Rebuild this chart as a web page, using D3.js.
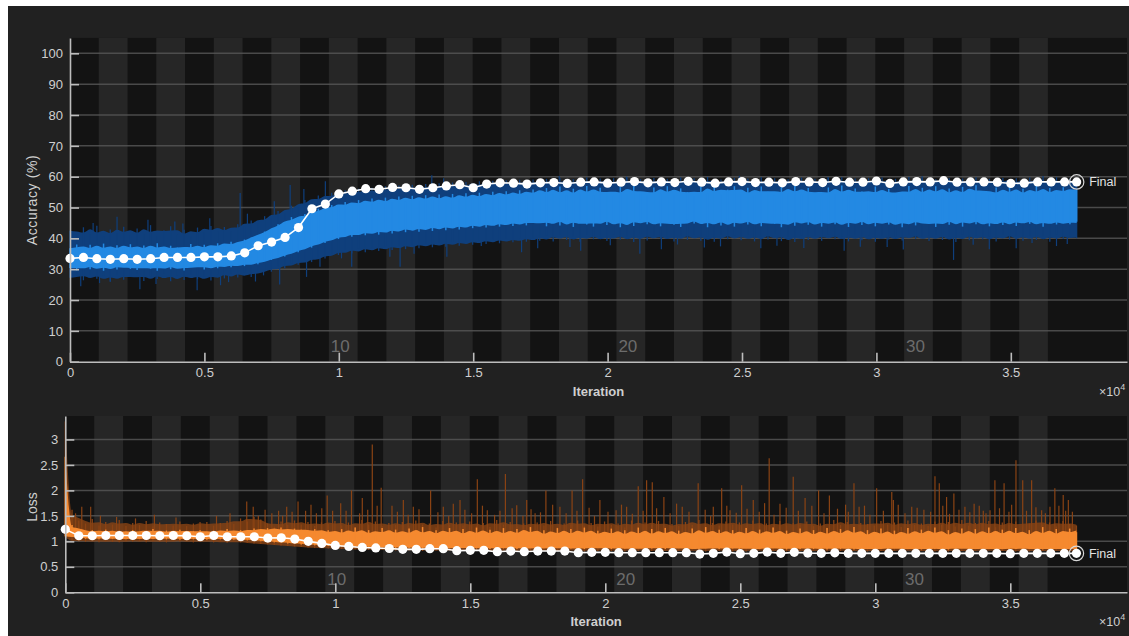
<!DOCTYPE html>
<html>
<head>
<meta charset="utf-8">
<script src="https://cdn.jsdelivr.net/npm/d3@7"></script>
<style>
  html, body { margin: 0; padding: 0; background: #ffffff; }
  svg { display: block; }
  text { font-family: "Liberation Sans", Arial, Helvetica, sans-serif; }
</style>
</head>
<body>
<svg id="chart" width="1129" height="636"></svg>
<script>
// ---- training run setup ----
const TOTAL_ITER = 37450;
const ITER_PER_EPOCH = 1070;
const NUM_EPOCHS = 35;
const VALID_EVERY = 500;
const epochLabels = [10, 20, 30];

// ---- axis ticks ----
const accTicks = [0, 10, 20, 30, 40, 50, 60, 70, 80, 90, 100];
const lossTicks = [0, 0.5, 1, 1.5, 2, 2.5, 3];
const iterTicks = [0, 5000, 10000, 15000, 20000, 25000, 30000, 35000];

// ---- validation accuracy (%) every 500 iterations, plus final ----
const accValid = [
  33.5, 33.8, 33.4, 33.2, 33.4, 33.2, 33.4, 33.8, 33.8, 33.8,
  34.0, 34.0, 34.3, 35.3, 37.6, 38.8, 40.3, 43.5, 49.6, 51.1,
  54.4, 55.3, 56.1, 55.9, 56.5, 56.4, 55.9, 56.4, 57.0, 57.4,
  56.4, 57.6, 58.0, 57.9, 57.6, 58.0, 58.1, 57.8, 58.2, 58.3,
  57.9, 58.2, 58.4, 58.0, 58.3, 58.1, 58.5, 58.2, 57.9, 58.3,
  58.4, 58.1, 58.2, 58.0, 58.4, 58.3, 58.1, 58.5, 58.2, 58.2,
  58.6, 57.8, 58.3, 58.4, 58.3, 58.7, 58.2, 58.3, 58.3, 58.2,
  57.8, 57.9, 58.3, 58.3, 58.3
];
const accFinal = 58.3;

// ---- validation loss every 500 iterations, plus final ----
const lossValid = [
  1.235, 1.11, 1.11, 1.115, 1.115, 1.115, 1.115, 1.11, 1.115, 1.11,
  1.09, 1.115, 1.09, 1.09, 1.09, 1.065, 1.07, 1.045, 1.0, 0.96,
  0.92, 0.9, 0.88, 0.87, 0.86, 0.843, 0.843, 0.856, 0.856, 0.816,
  0.823, 0.823, 0.797, 0.81, 0.797, 0.81, 0.81, 0.81, 0.777, 0.784,
  0.784, 0.777, 0.777, 0.777, 0.777, 0.777, 0.777, 0.751, 0.764, 0.79,
  0.758, 0.764, 0.79, 0.764, 0.784, 0.77, 0.764, 0.775, 0.764, 0.764,
  0.764, 0.764, 0.764, 0.764, 0.764, 0.764, 0.764, 0.764, 0.764, 0.764,
  0.758, 0.764, 0.764, 0.764, 0.764
];
const lossFinal = 0.764;

// ---- training accuracy envelopes, 151 samples spread over the run ----
const accSmoothHi = [
  36.8, 38.0, 36.2, 37.9, 36.6, 38.3, 36.0, 37.8, 36.9, 38.1,
  36.3, 37.7, 36.7, 38.4, 36.1, 37.6, 37.0, 36.4, 38.2, 36.8,
  37.9, 36.9, 38.4, 37.6, 38.9, 38.0, 39.6, 40.3, 40.9, 42.2,
  43.0, 44.6, 45.0, 46.9, 46.3, 47.9, 48.0, 49.6, 49.2, 50.8,
  50.4, 51.8, 50.6, 52.4, 51.2, 52.9, 51.4, 53.2, 51.8, 53.6,
  52.0, 53.8, 52.3, 54.0, 52.5, 54.2, 52.4, 54.4, 52.9, 54.6,
  53.1, 54.8, 53.3, 55.1, 53.6, 55.3, 53.8, 55.6, 54.0, 55.8,
  54.6, 56.3, 54.2, 56.8, 53.9, 56.1, 54.5, 57.0, 54.0, 56.4,
  55.0, 53.8, 56.6, 54.3, 57.1, 54.7, 53.9, 56.5, 54.4, 56.9,
  54.1, 56.2, 55.0, 53.7, 56.7, 54.6, 57.2, 54.2, 55.8, 56.9,
  54.3, 56.4, 53.9, 56.8, 55.1, 54.0, 56.6, 54.5, 57.0, 54.2,
  56.3, 54.8, 53.8, 56.5, 54.4, 57.1, 54.0, 56.2, 55.2, 53.9,
  56.8, 54.3, 56.0, 54.7, 53.8, 57.0, 54.5, 56.4, 54.1, 56.9,
  54.6, 56.2, 53.9, 56.7, 54.4, 57.2, 55.0, 54.2, 56.5, 54.0,
  56.8, 54.5, 56.1, 53.9, 57.0, 54.6, 56.3, 54.2, 56.6, 55.4,
  55.8
];
const accSmoothLo = [
  30.4, 29.6, 31.2, 30.0, 31.0, 29.5, 30.8, 29.9, 31.3, 30.1,
  29.7, 31.0, 30.2, 29.5, 31.1, 30.0, 30.9, 29.6, 30.7, 31.2,
  29.9, 30.8, 30.3, 31.3, 30.6, 31.5, 31.0, 31.8, 31.6, 32.6,
  33.0, 33.9, 34.1, 35.4, 35.5, 36.9, 37.0, 38.4, 38.5, 39.9,
  39.8, 41.0, 40.5, 41.8, 41.0, 42.2, 41.2, 42.8, 41.6, 43.1,
  42.0, 43.4, 42.1, 43.7, 42.4, 43.9, 42.6, 44.1, 42.9, 44.3,
  43.3, 44.6, 43.5, 44.9, 43.8, 45.1, 44.0, 45.3, 44.2, 45.4,
  45.3, 43.9, 46.0, 44.2, 45.6, 43.7, 45.9, 44.5, 43.8, 46.1,
  44.3, 45.7, 43.6, 45.4, 44.0, 46.2, 44.6, 45.1, 43.9, 45.8,
  44.4, 43.7, 46.0, 44.8, 45.5, 43.6, 45.9, 44.2, 45.3, 43.8,
  46.1, 44.5, 45.2, 43.9, 45.8, 44.7, 43.6, 45.6, 44.1, 46.0,
  44.4, 45.3, 43.8, 45.9, 44.6, 45.0, 43.7, 46.2, 44.3, 45.5,
  43.9, 45.8, 44.5, 45.1, 43.6, 46.0, 44.2, 45.4, 44.8, 43.7,
  45.9, 44.4, 45.6, 43.8, 46.1, 44.6, 45.2, 43.9, 45.7, 44.3,
  45.5, 44.0, 46.0, 44.7, 45.3, 43.8, 45.8, 44.5, 45.1, 44.6,
  45.4
];
const accRawHi = [
  42.5, 40.8, 43.6, 41.2, 44.1, 40.5, 42.9, 41.7, 43.8, 40.9,
  43.2, 41.4, 44.3, 40.7, 42.6, 43.9, 41.1, 42.8, 40.6, 43.5,
  41.8, 44.0, 42.3, 43.7, 42.1, 44.6, 43.9, 45.8, 44.7, 47.2,
  46.5, 48.9, 48.1, 50.6, 50.2, 52.4, 51.8, 53.9, 52.6, 54.8,
  53.9, 55.6, 54.2, 56.1, 54.7, 56.4, 55.0, 56.9, 55.3, 57.1,
  55.6, 57.4, 55.9, 57.6, 56.0, 57.9, 56.2, 58.1, 56.4, 58.3,
  56.6, 58.5, 56.9, 58.7, 57.1, 58.8, 57.3, 59.0, 57.5, 59.1,
  57.6, 59.3, 57.8, 59.6, 57.4, 59.2, 58.0, 59.7, 57.5, 59.4,
  57.9, 59.5, 57.3, 59.8, 58.1, 59.2, 57.6, 59.6, 57.8, 59.3,
  58.2, 59.7, 57.4, 59.5, 57.9, 59.9, 57.6, 59.1, 58.0, 59.6,
  57.5, 59.4, 57.8, 59.8, 57.3, 59.5, 58.1, 59.2, 57.7, 59.7,
  57.9, 59.3, 57.5, 59.6, 58.2, 59.8, 57.6, 59.4, 57.8, 59.5,
  58.0, 59.7, 57.4, 59.3, 57.9, 59.9, 57.7, 59.5, 58.1, 59.2,
  57.6, 59.6, 57.8, 59.4, 57.5, 59.8, 58.0, 59.3, 57.7, 59.6,
  57.9, 59.5, 57.4, 59.7, 58.1, 59.2, 57.6, 59.8, 57.8, 59.4,
  58.0
];
const accRawLo = [
  27.2, 28.6, 26.4, 28.1, 26.9, 27.8, 25.9, 28.3, 26.6, 27.5,
  28.4, 26.2, 27.7, 26.8, 28.5, 26.1, 27.9, 26.5, 28.2, 26.7,
  27.6, 26.3, 28.4, 27.0, 28.6, 27.3, 28.9, 27.5, 28.8, 29.6,
  29.2, 30.8, 30.3, 31.9, 31.4, 32.7, 32.3, 33.9, 33.5, 35.0,
  34.6, 36.2, 35.1, 36.7, 35.5, 37.1, 35.9, 37.4, 36.2, 37.8,
  36.5, 38.1, 36.8, 38.3, 37.1, 38.6, 37.3, 38.8, 37.6, 39.1,
  37.9, 39.3, 38.2, 39.6, 38.4, 39.8, 38.7, 40.0, 38.9, 40.2,
  39.2, 40.8, 39.0, 41.3, 39.5, 40.6, 38.9, 41.1, 39.7, 40.4,
  39.1, 41.2, 39.6, 40.7, 38.8, 41.4, 39.3, 40.9, 39.8, 40.5,
  39.0, 41.0, 39.5, 41.3, 39.2, 40.6, 38.9, 41.2, 39.7, 40.8,
  39.4, 41.1, 39.0, 40.7, 39.6, 41.4, 39.1, 40.5, 38.8, 41.0,
  39.5, 40.9, 39.2, 41.3, 39.7, 40.6, 39.0, 41.2, 39.4, 40.8,
  38.9, 41.0, 39.6, 40.4, 39.3, 41.3, 39.8, 40.7, 39.1, 41.1,
  39.5, 40.6, 38.8, 41.2, 39.4, 40.9, 39.7, 40.5, 39.0, 41.3,
  39.6, 40.8, 39.2, 41.0, 39.5, 40.7, 38.9, 41.2, 39.8, 40.6,
  40.0
];
// isolated raw accuracy excursions: [iteration, value]
const accSpikes = [
  [400, 24.5], [860, 45.0], [1100, 25.5], [1500, 26.0], [1750, 47.0], [2600, 23.5],
  [2900, 46.0], [3200, 25.2], [3900, 45.5], [4200, 44.8], [4730, 23.2], [5200, 46.5],
  [5600, 24.8], [5900, 25.8], [6330, 54.7], [6600, 48.0], [6900, 26.0], [7200, 28.0],
  [7600, 52.0], [7800, 25.0], [8190, 57.3], [8700, 56.0], [8800, 27.5], [9300, 30.8],
  [9500, 58.5], [10100, 33.5], [10480, 30.8], [11000, 56.5], [11900, 34.0], [12280, 30.8],
  [12800, 35.0], [13460, 60.5], [13900, 59.5], [14020, 34.0], [15300, 37.5], [16800, 35.5],
  [17400, 36.8], [18200, 60.2], [18600, 37.2], [19000, 36.0], [20100, 37.8], [20700, 60.0],
  [21200, 35.0], [22000, 36.5], [22600, 38.0], [23600, 37.0], [24200, 37.4], [24900, 60.3],
  [25700, 36.8], [26300, 37.6], [27300, 36.9], [28200, 59.9], [28800, 36.0], [29400, 37.3],
  [30400, 37.2], [31000, 36.4], [31700, 60.1], [32870, 33.0], [33600, 37.9], [34200, 36.5],
  [35200, 36.8], [35790, 38.5], [36200, 60.2], [36700, 37.5], [37100, 38.2]
];

// ---- training loss envelopes, 151 samples spread over the run ----
const lossSmoothHi = [
  2.66, 1.32, 1.24, 1.20, 1.22, 1.18, 1.23, 1.19, 1.21, 1.17,
  1.22, 1.18, 1.20, 1.24, 1.17, 1.21, 1.19, 1.23, 1.18, 1.20,
  1.22, 1.17, 1.21, 1.19, 1.24, 1.18, 1.22, 1.20, 1.25, 1.21,
  1.26, 1.22, 1.27, 1.21, 1.25, 1.23, 1.20, 1.24, 1.19, 1.22,
  1.15, 1.24, 1.13, 1.27, 1.16, 1.22, 1.12, 1.26, 1.17, 1.23,
  1.12, 1.25, 1.14, 1.28, 1.11, 1.22, 1.15, 1.26, 1.13, 1.24,
  1.10, 1.27, 1.14, 1.23, 1.12, 1.26, 1.11, 1.24, 1.15, 1.28,
  1.12, 1.22, 1.10, 1.26, 1.13, 1.24, 1.11, 1.27, 1.14, 1.21,
  1.10, 1.25, 1.13, 1.22, 1.09, 1.27, 1.12, 1.24, 1.10, 1.26,
  1.13, 1.21, 1.09, 1.25, 1.12, 1.28, 1.10, 1.23, 1.14, 1.22,
  1.09, 1.26, 1.12, 1.23, 1.10, 1.27, 1.13, 1.21, 1.09, 1.25,
  1.12, 1.22, 1.08, 1.26, 1.11, 1.24, 1.13, 1.28, 1.10, 1.22,
  1.09, 1.25, 1.12, 1.21, 1.08, 1.26, 1.11, 1.23, 1.13, 1.27,
  1.10, 1.22, 1.08, 1.25, 1.12, 1.24, 1.09, 1.27, 1.11, 1.23,
  1.13, 1.26, 1.09, 1.22, 1.11, 1.28, 1.10, 1.24, 1.12, 1.25,
  1.18
];
const lossSmoothLo = [
  1.10, 1.10, 1.07, 1.05, 1.06, 1.04, 1.07, 1.05, 1.03, 1.06,
  1.04, 1.07, 1.03, 1.05, 1.06, 1.04, 1.07, 1.03, 1.05, 1.04,
  1.06, 1.03, 1.05, 1.04, 1.06, 1.03, 1.04, 1.02, 1.03, 1.00,
  1.01, 0.98, 0.99, 0.96, 0.97, 0.94, 0.95, 0.92, 0.93, 0.91,
  0.92, 0.90, 0.91, 0.89, 0.90, 0.88, 0.90, 0.88, 0.89, 0.87,
  0.89, 0.87, 0.88, 0.86, 0.88, 0.87, 0.86, 0.88, 0.86, 0.87,
  0.88, 0.86, 0.87, 0.85, 0.87, 0.86, 0.88, 0.85, 0.86, 0.87,
  0.85, 0.87, 0.86, 0.88, 0.85, 0.86, 0.87, 0.85, 0.86, 0.88,
  0.86, 0.85, 0.87, 0.86, 0.84, 0.87, 0.85, 0.86, 0.88, 0.85,
  0.86, 0.87, 0.85, 0.86, 0.84, 0.87, 0.86, 0.85, 0.87, 0.86,
  0.85, 0.87, 0.84, 0.86, 0.85, 0.87, 0.86, 0.84, 0.86, 0.85,
  0.87, 0.85, 0.86, 0.84, 0.86, 0.85, 0.87, 0.84, 0.86, 0.85,
  0.84, 0.86, 0.85, 0.87, 0.84, 0.86, 0.85, 0.84, 0.86, 0.85,
  0.86, 0.84, 0.85, 0.87, 0.84, 0.86, 0.85, 0.86, 0.84, 0.85,
  0.85, 0.86, 0.84, 0.86, 0.85, 0.84, 0.86, 0.85, 0.84, 0.86,
  0.85
];
const lossRawHi = [
  3.35, 1.62, 1.41, 1.35, 1.44, 1.31, 1.38, 1.33, 1.42, 1.30,
  1.36, 1.32, 1.40, 1.29, 1.37, 1.34, 1.31, 1.39, 1.30, 1.35,
  1.33, 1.38, 1.31, 1.36, 1.40, 1.34, 1.45, 1.39, 1.48, 1.43,
  1.35, 1.29, 1.39, 1.32, 1.41, 1.33, 1.38, 1.30, 1.37, 1.34,
  1.40, 1.31, 1.37, 1.28, 1.42, 1.33, 1.39, 1.30, 1.36, 1.32,
  1.38, 1.29, 1.41, 1.33, 1.35, 1.27, 1.40, 1.32, 1.37, 1.31,
  1.39, 1.30, 1.36, 1.28, 1.42, 1.33, 1.38, 1.29, 1.35, 1.32,
  1.37, 1.31, 1.40, 1.28, 1.35, 1.33, 1.41, 1.30, 1.36, 1.29,
  1.39, 1.32, 1.35, 1.27, 1.41, 1.31, 1.37, 1.33, 1.40, 1.29,
  1.34, 1.30, 1.38, 1.32, 1.42, 1.28, 1.36, 1.31, 1.39, 1.33,
  1.37, 1.29, 1.41, 1.32, 1.35, 1.28, 1.40, 1.31, 1.36, 1.33,
  1.39, 1.30, 1.35, 1.27, 1.42, 1.32, 1.38, 1.29, 1.36, 1.34,
  1.31, 1.40, 1.33, 1.37, 1.28, 1.41, 1.32, 1.35, 1.30, 1.39,
  1.33, 1.38, 1.29, 1.42, 1.31, 1.36, 1.34, 1.40, 1.28, 1.37,
  1.32, 1.39, 1.30, 1.35, 1.41, 1.33, 1.37, 1.29, 1.40, 1.34,
  1.31
];
const lossRawLo = [
  1.08, 1.02, 1.00, 0.99, 1.01, 0.98, 1.00, 0.99, 0.98, 1.00,
  0.99, 1.01, 0.98, 1.00, 0.99, 0.98, 1.01, 0.99, 1.00, 0.98,
  0.99, 1.00, 0.98, 0.99, 0.97, 0.99, 0.98, 0.97, 0.96, 0.95,
  0.94, 0.93, 0.92, 0.91, 0.90, 0.89, 0.88, 0.87, 0.87, 0.86,
  0.86, 0.85, 0.85, 0.84, 0.85, 0.83, 0.84, 0.83, 0.84, 0.82,
  0.83, 0.82, 0.84, 0.81, 0.83, 0.82, 0.81, 0.83, 0.82, 0.84,
  0.82, 0.81, 0.83, 0.82, 0.80, 0.83, 0.82, 0.81, 0.83, 0.82,
  0.81, 0.83, 0.80, 0.82, 0.81, 0.83, 0.82, 0.80, 0.82, 0.81,
  0.83, 0.81, 0.82, 0.80, 0.82, 0.81, 0.83, 0.81, 0.80, 0.82,
  0.81, 0.82, 0.80, 0.83, 0.81, 0.80, 0.82, 0.81, 0.83, 0.80,
  0.82, 0.80, 0.81, 0.83, 0.80, 0.82, 0.81, 0.80, 0.82, 0.81,
  0.80, 0.82, 0.81, 0.80, 0.83, 0.81, 0.80, 0.82, 0.81, 0.80,
  0.82, 0.81, 0.80, 0.82, 0.81, 0.83, 0.80, 0.81, 0.82, 0.80,
  0.81, 0.80, 0.82, 0.81, 0.80, 0.82, 0.81, 0.83, 0.80, 0.81,
  0.82, 0.80, 0.81, 0.80, 0.82, 0.81, 0.80, 0.82, 0.81, 0.80,
  0.81
];
// isolated raw loss excursions: [iteration, value]
const lossSpikes = [
  [380, 1.55], [610, 1.68], [940, 1.68], [1300, 1.50], [1900, 1.48], [2600, 1.45],
  [3300, 1.52], [4100, 1.47], [4990, 1.38], [5600, 1.50], [6100, 1.55], [6720, 1.78],
  [6960, 1.68], [7150, 1.50], [7400, 1.62], [7650, 1.55], [7900, 1.60], [8050, 1.50],
  [8200, 1.68], [8400, 1.58], [8620, 1.78], [8900, 1.60], [9100, 1.72], [9300, 1.55],
  [9500, 1.65], [9700, 1.90], [9900, 1.60], [10200, 1.75], [10400, 1.60], [10600, 2.00],
  [10900, 1.55], [11000, 1.85], [11200, 1.62], [11370, 2.90], [11550, 1.70], [11700, 2.05],
  [12100, 1.70], [12300, 1.58], [12520, 1.81], [12700, 1.52], [12890, 1.68], [13100, 1.63],
  [13530, 2.00], [13800, 1.57], [14000, 1.68], [14200, 1.50], [14370, 1.74], [14620, 1.81],
  [14800, 1.62], [15050, 1.55], [15260, 2.22], [15450, 1.70], [15630, 1.61], [15900, 1.52],
  [16100, 1.60], [16300, 2.32], [16550, 1.65], [16720, 1.71], [16950, 1.50], [17090, 1.81],
  [17250, 1.63], [17400, 1.55], [17600, 1.57], [17800, 2.00], [18050, 1.72], [18320, 1.68],
  [18550, 1.55], [18770, 2.00], [18950, 1.60], [19160, 2.22], [19400, 1.66], [19600, 1.50],
  [19800, 1.81], [20100, 1.58], [20400, 1.61], [20600, 1.72], [20790, 1.68], [21000, 1.54],
  [21220, 2.08], [21400, 1.60], [21530, 2.20], [21740, 2.16], [21900, 1.65], [22170, 1.87],
  [22400, 1.55], [22640, 1.74], [22850, 1.68], [23100, 1.58], [23440, 2.14], [23700, 1.62],
  [23900, 1.50], [24000, 1.68], [24310, 2.04], [24500, 1.70], [24620, 1.61], [24850, 1.56],
  [25050, 2.10], [25250, 1.64], [25480, 1.81], [25700, 1.58], [25900, 1.75], [26070, 2.63],
  [26250, 1.52], [26470, 1.74], [26700, 1.66], [26960, 2.27], [27150, 1.60], [27400, 1.85],
  [27650, 1.70], [27900, 2.00], [28100, 1.55], [28300, 1.90], [28600, 1.64], [28900, 1.72],
  [29000, 1.58], [29210, 2.14], [29400, 1.68], [29600, 1.70], [29800, 1.52], [30050, 2.04],
  [30300, 1.60], [30610, 1.97], [30670, 1.81], [30850, 1.72], [31100, 1.55], [31350, 1.68],
  [31550, 1.66], [31800, 1.62], [32050, 1.58], [32210, 2.28], [32370, 2.14], [32500, 1.70],
  [32640, 1.87], [32750, 1.54], [32910, 1.94], [33100, 1.62], [33320, 1.68], [33500, 1.57],
  [33660, 1.74], [33850, 1.70], [34000, 1.60], [34100, 1.55], [34250, 1.61], [34430, 2.20],
  [34600, 1.65], [34770, 2.14], [34950, 1.58], [35050, 1.72], [35210, 2.59], [35460, 2.20],
  [35600, 1.60], [35790, 2.20], [35950, 1.67], [36160, 1.61], [36300, 1.55], [36470, 1.68],
  [36650, 2.04], [36800, 1.70], [36960, 1.91], [37050, 1.60], [37150, 1.81], [37300, 1.58]
];

// ---- drawing ----
const W = 1129, H = 636;
const PLOT_RIGHT = 1127;
const svg = d3.select("#chart");

svg.append("rect").attr("x", 8).attr("y", 6).attr("width", W - 8).attr("height", H - 6).attr("fill", "#212121");

function sampleIters(n) {
  return d3.range(n).map(i => i * TOTAL_ITER / (n - 1));
}

// three-sample running mean used for the dense core of a band
function runningMean(arr) {
  return arr.map((v, i) => i === 0 ? v : d3.mean(arr.slice(Math.max(1, i - 1), i + 2)));
}

// dense band: averaged core plus one stroke per sample reaching its extremes
function drawBand(g, x, y, hiArr, loArr, color, strokeW, coreOpacity) {
  const its = sampleIters(hiArr.length);
  const hiCore = runningMean(hiArr), loCore = runningMean(loArr);
  const pts = hiArr.map((v, i) => ({ it: its[i], hi: v, lo: loArr[i], hc: hiCore[i], lc: loCore[i] }));
  g.append("path")
    .datum(pts)
    .attr("d", d3.area().curve(d3.curveMonotoneX)
      .x(d => x(d.it)).y0(d => y(d.lc)).y1(d => y(d.hc)))
    .attr("fill", color).attr("fill-opacity", coreOpacity);
  g.append("g").selectAll("line")
    .data(pts)
    .join("line")
    .attr("x1", d => x(d.it)).attr("x2", d => x(d.it))
    .attr("y1", d => y(d.lo)).attr("y2", d => y(d.hi))
    .attr("stroke", color).attr("stroke-width", strokeW);
}

function drawPanel(cfg) {
  const g = svg.append("g");
  const x = d3.scaleLinear().domain([0, TOTAL_ITER * 1.05]).range([cfg.left, PLOT_RIGHT]);
  const y = d3.scaleLinear().domain([0, cfg.ymax]).range([cfg.bottom, cfg.top]);

  // plot background and alternating epoch bands
  g.append("rect")
    .attr("x", cfg.left).attr("y", cfg.top)
    .attr("width", PLOT_RIGHT - cfg.left).attr("height", cfg.bottom - cfg.top)
    .attr("fill", "#131313");
  const epochs = d3.range(1, NUM_EPOCHS + 1);
  g.append("g").selectAll("rect")
    .data(epochs.filter(e => e % 2 === 0))
    .join("rect")
    .attr("x", e => x((e - 1) * ITER_PER_EPOCH))
    .attr("width", e => x(e * ITER_PER_EPOCH) - x((e - 1) * ITER_PER_EPOCH))
    .attr("y", cfg.top).attr("height", cfg.bottom - cfg.top)
    .attr("fill", "#262626");

  // horizontal grid
  g.append("g").selectAll("line")
    .data(cfg.ticks.filter(t => t > 0))
    .join("line")
    .attr("x1", cfg.left).attr("x2", PLOT_RIGHT)
    .attr("y1", d => y(d)).attr("y2", d => y(d))
    .attr("stroke", "#555555").attr("stroke-width", 1.5).attr("stroke-opacity", 0.85);

  // epoch numbers
  g.append("g").selectAll("text")
    .data(epochLabels)
    .join("text")
    .attr("x", e => x((e - 0.5) * ITER_PER_EPOCH) - 3)
    .attr("y", cfg.epochBaseline)
    .attr("text-anchor", "middle")
    .attr("font-size", 17)
    .attr("fill", "#6c6c6c")
    .text(e => e);

  // raw series: isolated excursions, then the dense envelope, then the smoothed one
  const smoothIters = sampleIters(cfg.smoothHi.length);
  const smoothMid = d3.scaleLinear()
    .domain(smoothIters)
    .range(cfg.smoothHi.map((v, i) => (v + cfg.smoothLo[i]) / 2));
  g.append("g").selectAll("line")
    .data(cfg.spikes)
    .join("line")
    .attr("x1", d => x(d[0])).attr("x2", d => x(d[0]))
    .attr("y1", d => y(smoothMid(d[0]))).attr("y2", d => y(d[1]))
    .attr("stroke", cfg.rawColor).attr("stroke-width", 1.2);

  drawBand(g, x, y, cfg.rawHi, cfg.rawLo, cfg.rawColor, 1.3, cfg.rawCoreOpacity);
  drawBand(g, x, y, cfg.smoothHi, cfg.smoothLo, cfg.smoothColor, 1.5, 1);

  // validation line and markers
  const valid = cfg.valid.map((v, i) => ({ it: i * VALID_EVERY, v }));
  valid.push({ it: TOTAL_ITER, v: cfg.final });
  g.append("path")
    .datum(valid)
    .attr("d", d3.line().x(d => x(d.it)).y(d => y(d.v)))
    .attr("fill", "none").attr("stroke", "#ffffff").attr("stroke-width", 1.6);
  g.append("g").selectAll("circle")
    .data(valid)
    .join("circle")
    .attr("cx", d => x(d.it)).attr("cy", d => y(d.v))
    .attr("r", 4.6).attr("fill", "#ffffff");

  // final marker
  const fx = x(TOTAL_ITER), fy = y(cfg.final);
  g.append("circle").attr("cx", fx).attr("cy", fy).attr("r", 7.2)
    .attr("fill", "none").attr("stroke", "#d8d8d8").attr("stroke-width", 1.2);
  g.append("text").attr("x", fx + 12.5).attr("y", fy).attr("dy", "0.35em")
    .attr("font-size", 12.5).attr("fill", "#e2e2e2").text("Final");

  // axes
  const yAxis = d3.axisLeft(y).tickValues(cfg.ticks).tickSize(-9).tickSizeOuter(0)
    .tickPadding(7).tickFormat(d3.format("~g"));
  const xAxis = d3.axisBottom(x).tickValues(iterTicks).tickSize(-9).tickSizeOuter(0)
    .tickPadding(6).tickFormat(d => d3.format("~g")(d / 1e4));
  const ya = g.append("g").attr("transform", `translate(${cfg.left},0)`).call(yAxis);
  const xa = g.append("g").attr("transform", `translate(0,${cfg.bottom})`).call(xAxis);
  [ya, xa].forEach(a => {
    a.select(".domain").attr("stroke", "#bdbdbd").attr("stroke-width", 1.6);
    a.selectAll(".tick line").attr("stroke", "#bdbdbd").attr("stroke-width", 1.6);
    a.selectAll(".tick text").attr("fill", "#cfcfcf").attr("font-size", 13)
      .attr("font-family", "'Liberation Sans', Arial, sans-serif");
  });

  // axis titles
  g.append("text")
    .attr("x", (cfg.left + PLOT_RIGHT) / 2).attr("y", cfg.xTitleBaseline)
    .attr("text-anchor", "middle").attr("font-size", 13).attr("font-weight", "bold")
    .attr("fill", "#cfcfcf").text("Iteration");
  const ex = g.append("text").attr("x", 1099).attr("y", cfg.xTitleBaseline)
    .attr("font-size", 12.5).attr("fill", "#cfcfcf");
  ex.append("tspan").text("\u00d710");
  ex.append("tspan").attr("dy", -6).attr("font-size", 9).text("4");

  g.append("text")
    .attr("transform", `translate(${cfg.yTitleX},${cfg.yTitleY}) rotate(-90)`)
    .attr("text-anchor", "middle").attr("font-size", 14)
    .attr("letter-spacing", cfg.yTitleSpacing)
    .attr("fill", "#cfcfcf").text(cfg.yTitle);
}

drawPanel({
  left: 70, top: 37.9, bottom: 361.7, ymax: 105,
  ticks: accTicks,
  valid: accValid, final: accFinal,
  rawHi: accRawHi, rawLo: accRawLo, smoothHi: accSmoothHi, smoothLo: accSmoothLo,
  spikes: accSpikes,
  rawColor: "#0f3f7c", smoothColor: "#2389e3", rawCoreOpacity: 1,
  epochBaseline: 351.5, xTitleBaseline: 395.5,
  yTitle: "Accuracy (%)", yTitleX: 37, yTitleY: 200, yTitleSpacing: 0.6
});

drawPanel({
  left: 65.3, top: 416, bottom: 592.3, ymax: 3.46,
  ticks: lossTicks,
  valid: lossValid, final: lossFinal,
  rawHi: lossRawHi, rawLo: lossRawLo, smoothHi: lossSmoothHi, smoothLo: lossSmoothLo,
  spikes: lossSpikes,
  rawColor: "#8a4314", smoothColor: "#f5892f", rawCoreOpacity: 0.8,
  epochBaseline: 585, xTitleBaseline: 626,
  yTitle: "Loss", yTitleX: 36.5, yTitleY: 507, yTitleSpacing: 0
});
</script>
</body>
</html>
